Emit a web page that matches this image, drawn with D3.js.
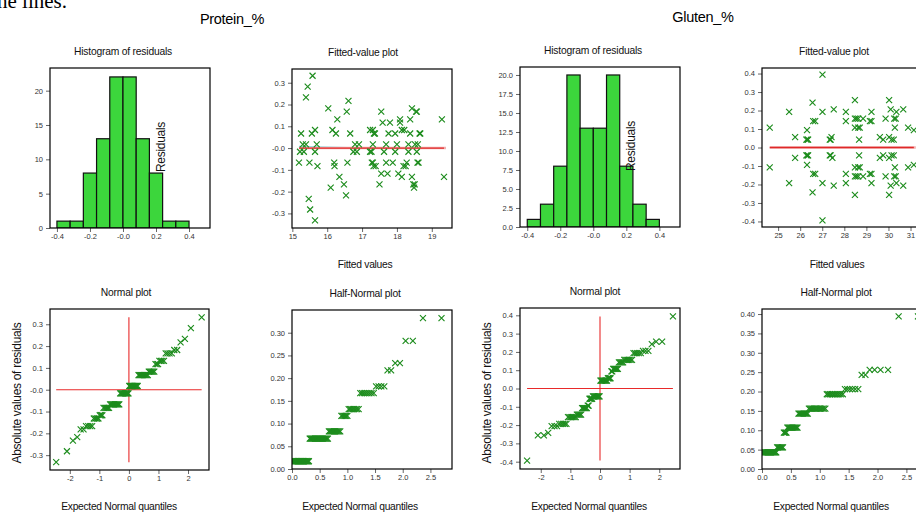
<!DOCTYPE html>
<html><head><meta charset="utf-8">
<script src="https://cdn.jsdelivr.net/npm/d3@7"></script>
<style>
body{margin:0;background:#fff}
svg{display:block}
text{font-family:"Liberation Sans",Arial,sans-serif}
</style>
</head><body>
<svg id="c" width="916" height="515"></svg>
<script>
// ---------------- DATA ----------------
const binEdges = [-0.4,-0.32,-0.24,-0.16,-0.08,0,0.08,0.16,0.24,0.32,0.4];
const proteinCounts = [1,1,8,13,22,22,13,8,1,1];
const glutenCounts = [1,3,8,20,13,13,20,8,3,1];

const proteinFitted = [15.25,15.22,15.33,15.19,15.30,15.39,15.39,15.44,15.58,15.47,15.51,15.65,15.49,15.56,15.65,15.65,15.70,15.72,16.03,16.10,16.15,16.25,16.29,16.20,16.21,16.35,16.48,16.54,16.56,16.61,16.58,16.66,16.75,16.85,16.80,16.91,17.23,17.31,17.34,17.37,17.23,17.31,17.28,17.33,17.39,17.31,17.50,17.55,17.55,17.59,17.63,17.69,17.69,17.73,17.76,17.80,17.88,17.95,17.95,18.00,18.04,18.09,18.09,18.14,18.14,18.21,18.19,18.25,18.28,18.33,18.33,18.38,18.38,18.43,18.43,18.47,18.49,18.55,18.57,18.52,18.60,18.57,18.59,18.62,18.65,18.67,19.29,19.35,18.51,17.27];
const proteinResid = [0.067,-0.017,-0.017,-0.067,0.017,0.017,0.233,0.282,0.332,-0.233,-0.282,-0.332,-0.067,0.067,0.083,-0.017,0.017,-0.083,0.182,-0.182,0.083,0.067,0.132,-0.067,-0.083,-0.132,-0.167,-0.217,0.167,0.217,-0.067,0.067,-0.017,-0.017,0.017,0.017,0.083,0.083,0.067,0.067,-0.017,0.017,-0.067,-0.083,-0.083,-0.067,-0.167,0.167,-0.117,0.117,-0.017,0.017,-0.067,-0.117,0.067,0.117,-0.067,0.067,-0.017,0.017,-0.117,0.132,0.117,-0.132,0.083,0.083,-0.083,-0.083,-0.067,0.017,-0.017,0.132,0.067,0.182,-0.132,-0.167,-0.182,0.167,0.167,0.017,0.017,-0.017,-0.067,-0.067,0.067,0.067,0.132,-0.132,-0.167,-0.017];

const glutenFitted = [24.62,25.50,25.77,26.31,26.28,26.36,26.33,26.56,26.59,26.68,27.01,27.01,27.34,27.38,27.42,27.52,28.07,28.07,28.48,28.48,28.55,28.63,28.48,28.63,28.70,28.67,28.85,29.16,29.23,29.23,29.61,29.76,29.87,30.03,30.03,30.14,30.10,30.26,30.33,30.29,30.24,30.36,30.67,30.89,31.15,
  24.62,25.50,25.77,26.31,26.28,26.36,26.33,26.56,26.59,26.68,27.01,27.01,27.34,27.38,27.46,27.52,28.07,28.07,28.48,28.48,28.55,28.63,28.48,28.63,28.70,28.67,28.85,29.16,29.23,29.23,29.61,29.76,29.87,30.03,30.03,30.14,30.10,30.26,30.33,30.29,30.24,30.36,30.67,30.89,31.15];
const glutenResid = [0.107,0.193,0.056,0.094,0.043,0.043,0.043,0.243,0.143,0.143,0.394,0.193,0.043,0.043,0.056,0.206,0.193,0.143,0.256,0.156,0.156,0.156,0.107,0.107,0.107,0.043,0.156,0.143,0.143,0.193,0.056,0.043,0.156,0.256,0.056,0.043,0.206,0.156,0.156,0.107,0.043,0.193,0.206,0.107,0.094,
  -0.107,-0.193,-0.056,-0.094,-0.043,-0.043,-0.043,-0.243,-0.143,-0.143,-0.394,-0.193,-0.043,-0.043,-0.056,-0.206,-0.193,-0.143,-0.256,-0.156,-0.156,-0.156,-0.107,-0.107,-0.107,-0.043,-0.156,-0.143,-0.143,-0.193,-0.056,-0.043,-0.156,-0.256,-0.056,-0.043,-0.206,-0.156,-0.156,-0.107,-0.043,-0.193,-0.206,-0.107,-0.094];

const proteinSmoothX = [15.19, 16.6];
const proteinSmoothY = [0.006, 0.0];

// tick values and labels
const histXTicks = [-0.4,-0.2,0,0.2,0.4];
const histXLabels = ["-0.4","-0.2","-0.0","0.2","0.4"];
const proteinHistYTicks = [0,5,10,15,20];
const proteinHistYLabels = ["0","5","10","15","20"];
const glutenHistYTicks = [0,2.5,5,7.5,10,12.5,15,17.5,20];
const glutenHistYLabels = ["0.0","2.5","5.0","7.5","10.0","12.5","15.0","17.5","20.0"];
const proteinFitXTicks = [15,16,17,18,19];
const glutenFitXTicks = [25,26,27,28,29,30,31];
const proteinResTicks = [-0.3,-0.2,-0.1,0,0.1,0.2,0.3];
const proteinResLabels = ["-0.3","-0.2","-0.1","-0.0","0.1","0.2","0.3"];
const glutenResTicks = [-0.4,-0.3,-0.2,-0.1,0,0.1,0.2,0.3,0.4];
const glutenResLabels = ["-0.4","-0.3","-0.2","-0.1","0.0","0.1","0.2","0.3","0.4"];
const normalXTicks = [-2,-1,0,1,2];
const normalXLabels = ["-2","-1","0","1","2"];
const halfXTicks = [0,0.5,1,1.5,2,2.5];
const halfXLabels = ["0.0","0.5","1.0","1.5","2.0","2.5"];
const proteinHalfYTicks = [0,0.05,0.10,0.15,0.20,0.25,0.30];
const proteinHalfYLabels = ["0.00","0.05","0.10","0.15","0.20","0.25","0.30"];
const glutenHalfYTicks = [0,0.05,0.10,0.15,0.20,0.25,0.30,0.35,0.40];
const glutenHalfYLabels = ["0.00","0.05","0.10","0.15","0.20","0.25","0.30","0.35","0.40"];

// ---------------- HELPERS ----------------
function invNorm(p){
  const a=[-3.969683028665376e+01,2.209460984245205e+02,-2.759285104469687e+02,1.383577518672690e+02,-3.066479806614716e+01,2.506628277459239e+00];
  const b=[-5.447609879822406e+01,1.615858368580409e+02,-1.556989798598866e+02,6.680131188771972e+01,-1.328068155288572e+01];
  const c=[-7.784894002430293e-03,-3.223964580411365e-01,-2.400758277161838e+00,-2.549732539343734e+00,4.374664141464968e+00,2.938163982698783e+00];
  const d=[7.784695709041462e-03,3.224671290700398e-01,2.445134137142996e+00,3.754408661907416e+00];
  const pl=0.02425;
  let q,r;
  if(p<pl){q=Math.sqrt(-2*Math.log(p));return (((((c[0]*q+c[1])*q+c[2])*q+c[3])*q+c[4])*q+c[5])/((((d[0]*q+d[1])*q+d[2])*q+d[3])*q+1);}
  if(p>1-pl){q=Math.sqrt(-2*Math.log(1-p));return -(((((c[0]*q+c[1])*q+c[2])*q+c[3])*q+c[4])*q+c[5])/((((d[0]*q+d[1])*q+d[2])*q+d[3])*q+1);}
  q=p-0.5;r=q*q;
  return (((((a[0]*r+a[1])*r+a[2])*r+a[3])*r+a[4])*r+a[5])*q/(((((b[0]*r+b[1])*r+b[2])*r+b[3])*r+b[4])*r+1);
}
function normalPoints(res){
  const s=res.slice().sort(d3.ascending), n=s.length;
  return s.map((v,i)=>({q:invNorm((i+1-0.375)/(n+0.25)), v}));
}
function halfNormalPoints(res){
  const s=res.map(Math.abs).sort(d3.ascending), n=s.length;
  return s.map((v,i)=>({q:invNorm(0.5+0.5*(i+1-0.375)/(n+0.25)), v}));
}

const svg = d3.select("#c");
const GREEN = "#1d8c1d";

function panel(cfg){
  const g = svg.append("g");
  const x = d3.scaleLinear().domain(cfg.xd).range([cfg.x0,cfg.x1]);
  const y = d3.scaleLinear().domain(cfg.yd).range([cfg.y1,cfg.y0]);
  const clip = "clip"+Math.round(cfg.x0)+"_"+Math.round(cfg.y0);
  g.append("clipPath").attr("id",clip).append("rect")
    .attr("x",cfg.x0).attr("y",cfg.y0).attr("width",cfg.x1-cfg.x0).attr("height",cfg.y1-cfg.y0);
  const ax = g.append("g").attr("transform",`translate(0,${cfg.y1})`)
    .call(d3.axisBottom(x).tickValues(cfg.xt).tickFormat((d,i)=>cfg.xl[i]).tickSize(4).tickPadding(2).tickSizeOuter(0));
  const ay = g.append("g").attr("transform",`translate(${cfg.x0},0)`)
    .call(d3.axisLeft(y).tickValues(cfg.yt).tickFormat((d,i)=>cfg.yl[i]).tickSize(4).tickPadding(3).tickSizeOuter(0));
  [ax,ay].forEach(a=>{
    a.select(".domain").remove();
    a.selectAll(".tick line").attr("stroke","#666").attr("stroke-width",1);
    a.selectAll(".tick text").attr("fill","#333").style("font-size","7.5px").style("font-family",'"Liberation Sans",Arial,sans-serif');
  });
  const content = g.append("g").attr("clip-path",`url(#${clip})`);
  cfg.draw(content,x,y);
  g.append("rect").attr("x",cfg.x0).attr("y",cfg.y0).attr("width",cfg.x1-cfg.x0).attr("height",cfg.y1-cfg.y0)
    .attr("fill","none").attr("stroke","#000").attr("stroke-width",1.2);
  g.append("text").attr("x",cfg.tx).attr("y",cfg.y0-13).attr("text-anchor","middle")
    .style("font-size","10.3px").style("letter-spacing","-0.2px").attr("fill","#111").text(cfg.title);
  return {x,y,g};
}

function crosses(sel,data,x,y,fx,fy){
  const s=3;
  sel.append("g").selectAll("path").data(data).join("path")
    .attr("d",d=>{const cx=x(fx(d)),cy=y(fy(d));return `M${cx-s},${cy-s}L${cx+s},${cy+s}M${cx-s},${cy+s}L${cx+s},${cy-s}`;})
    .attr("stroke",GREEN).attr("stroke-width",1.15).attr("fill","none");
}

function histDraw(counts){
  return (g,x,y)=>{
    g.selectAll("rect.bar").data(counts).join("rect").attr("class","bar")
      .attr("x",(d,i)=>x(binEdges[i])).attr("width",(d,i)=>x(binEdges[i+1])-x(binEdges[i]))
      .attr("y",d=>y(d)).attr("height",d=>y(0)-y(d))
      .attr("fill","#3cd63c").attr("stroke","#111").attr("stroke-width",1.2);
  };
}

function fittedDraw(fx,res,smx,smy){
  return (g,x,y)=>{
    const data = fx.map((v,i)=>({f:v,r:res[i]}));
    const ext = d3.extent(fx);
    if(smx){
      g.append("path").attr("d",d3.line()(smx.map((v,i)=>[x(v),y(smy[i])])))
        .attr("stroke","#7fe8ee").attr("stroke-width",2).attr("fill","none");
    }
    g.append("line").attr("x1",x(ext[0])).attr("x2",x(ext[1])+2).attr("y1",y(0)).attr("y2",y(0))
      .attr("stroke","#f2b0b0").attr("stroke-width",2.4);
    g.append("line").attr("x1",x(ext[0])).attr("x2",x(ext[1])).attr("y1",y(0)).attr("y2",y(0))
      .attr("stroke","#e02828").attr("stroke-width",1.3);
    crosses(g,data,x,y,d=>d.f,d=>d.r);
  };
}

function normalDraw(res){
  return (g,x,y)=>{
    const pts = normalPoints(res);
    const qe = d3.extent(pts,d=>d.q), ve = d3.extent(pts,d=>d.v);
    g.append("line").attr("x1",x(qe[0])).attr("x2",x(qe[1])).attr("y1",y(0)).attr("y2",y(0))
      .attr("stroke","#e82a2a").attr("stroke-width",1.1);
    g.append("line").attr("x1",x(0)).attr("x2",x(0)).attr("y1",y(ve[0])).attr("y2",y(ve[1]))
      .attr("stroke","#e82a2a").attr("stroke-width",1.1);
    crosses(g,pts,x,y,d=>d.q,d=>d.v);
  };
}
function halfDraw(res){
  return (g,x,y)=>{
    const pts = halfNormalPoints(res);
    crosses(g,pts,x,y,d=>d.q,d=>d.v);
  };
}

// ---------------- TEXT HEADERS ----------------
svg.append("text").attr("x",-3).attr("y",8).style("font-family",'"Liberation Serif","Times New Roman",serif')
  .style("font-size","21px").attr("fill","#000").text("he lines.");
svg.append("text").attr("x",232).attr("y",24).attr("text-anchor","middle").style("font-size","14.5px").style("letter-spacing","-0.3px").text("Protein_%");
svg.append("text").attr("x",703).attr("y",22).attr("text-anchor","middle").style("font-size","14.5px").style("letter-spacing","-0.3px").text("Gluten_%");

// ---------------- PANELS ----------------
panel({x0:50,x1:210,y0:68,y1:228,xd:[-0.442,0.527],yd:[0,23.3],xt:histXTicks,xl:histXLabels,
  yt:proteinHistYTicks,yl:proteinHistYLabels,title:"Histogram of residuals",tx:123,draw:histDraw(proteinCounts)});
panel({x0:292,x1:452,y0:69,y1:228,xd:[14.99,19.58],yd:[-0.367,0.363],xt:proteinFitXTicks,xl:proteinFitXTicks.map(String),
  yt:proteinResTicks,yl:proteinResLabels,title:"Fitted-value plot",tx:363,draw:fittedDraw(proteinFitted,proteinResid,proteinSmoothX,proteinSmoothY)});
panel({x0:520,x1:680,y0:67,y1:227,xd:[-0.444,0.525],yd:[0,21.05],xt:histXTicks,xl:histXLabels,
  yt:glutenHistYTicks,yl:glutenHistYLabels,title:"Histogram of residuals",tx:593,draw:histDraw(glutenCounts)});
panel({x0:762,x1:922,y0:68,y1:227,xd:[24.27,31.52],yd:[-0.43,0.43],xt:glutenFitXTicks,xl:glutenFitXTicks.map(String),
  yt:glutenResTicks,yl:glutenResLabels,title:"Fitted-value plot",tx:834,draw:fittedDraw(glutenFitted,glutenResid)});

panel({x0:50,x1:209,y0:309,y1:470,xd:[-2.67,2.71],yd:[-0.368,0.37],xt:normalXTicks,xl:normalXLabels,
  yt:proteinResTicks,yl:proteinResLabels,title:"Normal plot",tx:126,draw:normalDraw(proteinResid)});
panel({x0:292,x1:452,y0:310,y1:469,xd:[0,2.89],yd:[0,0.35],xt:halfXTicks,xl:halfXLabels,
  yt:proteinHalfYTicks,yl:proteinHalfYLabels,title:"Half-Normal plot",tx:365,draw:halfDraw(proteinResid)});
panel({x0:520,x1:680,y0:308,y1:469,xd:[-2.7,2.7],yd:[-0.44,0.44],xt:normalXTicks,xl:normalXLabels,
  yt:glutenResTicks,yl:glutenResLabels,title:"Normal plot",tx:595,draw:normalDraw(glutenResid)});
panel({x0:762,x1:922,y0:309,y1:469,xd:[0,2.77],yd:[0,0.413],xt:halfXTicks,xl:halfXLabels,
  yt:glutenHalfYTicks,yl:glutenHalfYLabels,title:"Half-Normal plot",tx:836,draw:halfDraw(glutenResid)});

// ---------------- AXIS LABELS ----------------
function label(x,y,t,rot,size){
  svg.append("text").attr("transform",`translate(${x},${y})${rot?" rotate(-90)":""}`)
    .attr("text-anchor","middle").style("font-size",size+"px").style("letter-spacing","-0.3px").attr("fill","#111").text(t);
}
label(165,147,"Residuals",true,12);
label(635,146,"Residuals",true,12);
label(365,268,"Fitted values",false,10.3);
label(837,268,"Fitted values",false,10.3);
label(21,393,"Absolute values of residuals",true,12);
label(491,393,"Absolute values of residuals",true,12);
label(119,510,"Expected Normal quantiles",false,10.3);
label(360,510,"Expected Normal quantiles",false,10.3);
label(589,510,"Expected Normal quantiles",false,10.3);
label(831,510,"Expected Normal quantiles",false,10.3);
</script>
</body></html>
